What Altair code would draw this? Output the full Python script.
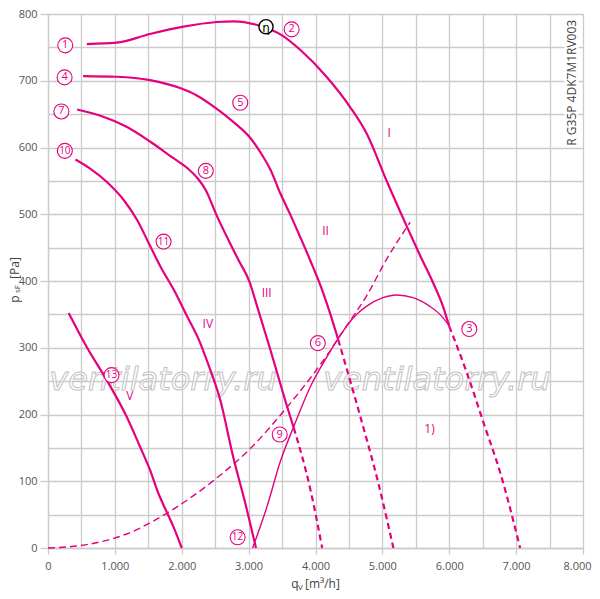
import altair as alt
import pandas as pd

MAG = "#e5007d"
GRID = "#cbcbcb"

# ---- fan curves (qV in m3/h, psF in Pa) ----
c1_x = [580, 1025, 1525, 2025, 2525, 2775, 3175, 3500, 3775, 4165, 4515, 4765, 5060, 5360, 5560, 5760, 5910, 6000]
c1_y = [755, 757, 770, 781, 788, 789, 782, 768, 746, 706, 661, 621, 551, 483, 439, 397, 361, 332]
c1d_x = [6000, 6265, 6515, 6765, 7060]
c1d_y = [332, 262, 187, 112, 0]

c2_x = [525, 1025, 1525, 1975, 2225, 2510, 2775, 3010, 3175, 3325, 3475, 3625, 3775, 3925, 4075, 4200, 4340]
c2_y = [707, 706, 701, 689, 678, 659, 638, 616, 593, 567, 531, 499, 465, 430, 393, 357, 312]
c2d_x = [4340, 4670, 4940, 5165]
c2d_y = [312, 197, 97, 0]

c3_x = [435, 775, 1175, 1525, 1875, 2085, 2235, 2360, 2510, 2700, 2850, 3020, 3100, 3325, 3575, 3675]
c3_y = [657, 648, 631, 609, 584, 569, 554, 536, 501, 461, 431, 397, 371, 297, 212, 180]
c3d_x = [3675, 3925, 4100]
c3d_y = [180, 87, 0]

c4_x = [410, 635, 885, 1135, 1335, 1510, 1685, 1885, 2085, 2260, 2375, 2575, 2775, 2950, 3110]
c4_y = [582, 568, 548, 521, 491, 456, 421, 386, 346, 311, 281, 222, 134, 67, 0]

c5_x = [310, 575, 875, 1175, 1375, 1525, 1650, 1775, 1875, 2000]
c5_y = [352, 302, 252, 197, 152, 117, 82, 54, 32, 0]

# thin solid arc (operating range limit)
arc_x = [3060, 3275, 3475, 3675, 3925, 4175, 4360, 4565, 4760, 5010, 5210, 5460, 5710, 5860, 5985]
arc_y = [0, 62, 130, 182, 242, 287, 317, 345, 362, 375, 379, 375, 362, 350, 335]

# thin dashed system curve
sys_x = [0, 575, 1175, 1775, 2475, 3025, 3575, 4160, 4460, 4760, 5060, 5415]
sys_y = [0, 5, 21, 52, 101, 149, 211, 287, 332, 377, 432, 488]

# ---- labels ----
num_ids = [1, 2, 3, 4, 5, 6, 7, 8, 9, 10, 11, 12, 13]
num_x = [258, 3643, 6300, 248, 2875, 4035, 200, 2360, 3465, 252, 1728, 2835, 950]
num_y = [753, 777, 328, 705, 667, 307, 654, 565, 170, 595, 459, 16, 259]

roman_txt = ["I", "II", "III", "IV", "V", "1)"]
roman_x = [5100, 4150, 3270, 2390, 1225, 5705]
roman_y = [621, 475, 382, 336, 228, 178]

eta_x = [3260]
eta_y = [781]

wm_txt = ["ventilatorry.ru", "ventilatorry.ru"]
wm_x = [1720, 5815]
wm_y = [251, 251]

model_txt = ["R G35P 4DK7M1RV003"]
model_x = [7830]
model_y = [697]


def frame(name, xs, ys):
    return pd.DataFrame({"x": xs, "y": ys, "s": name, "o": list(range(len(xs)))})


thick_solid = pd.concat([frame("I", c1_x, c1_y), frame("II", c2_x, c2_y), frame("III", c3_x, c3_y),
                         frame("IV", c4_x, c4_y), frame("V", c5_x, c5_y)])
thick_dash = pd.concat([frame("Id", c1d_x, c1d_y), frame("IId", c2d_x, c2d_y), frame("IIId", c3d_x, c3d_y)])
thin_solid = frame("arc", arc_x, arc_y)
thin_dash = frame("sys", sys_x, sys_y)

nums = pd.DataFrame({"n": num_ids, "x": num_x, "y": num_y})
romans = pd.DataFrame({"t": roman_txt, "x": roman_x, "y": roman_y})
eta = pd.DataFrame({"t": ["η"], "x": eta_x, "y": eta_y})
wm = pd.DataFrame({"t": wm_txt, "x": wm_x, "y": wm_y})
model = pd.DataFrame({"t": model_txt, "x": model_x, "y": model_y})
one = pd.DataFrame({"k": [0]})

xaxis = alt.Axis(
    values=list(range(0, 8001, 500)),
    labelExpr="datum.value % 1000 === 0 ? (datum.value === 0 ? '0' : (datum.value/1000) + '.000') : ''",
    labelFlush=False, labelOverlap=False,
    labelOffset={"condition": {"test": "datum.value === 8000", "value": -6}, "value": 0},
    tickOpacity={"condition": {"test": "datum.value % 1000 === 0", "value": 1}, "value": 0},
    tickSize=6, labelPadding=6, tickColor=GRID, tickWidth=1.3,
    grid=True, gridColor=GRID, gridWidth=1.3,
    domainColor=GRID, domainWidth=1.3,
    labelFont="Open Sans", labelFontSize=11, labelColor="#555",
    title=None,
)
yaxis = alt.Axis(
    values=list(range(0, 801, 50)),
    labelExpr="datum.value % 100 === 0 ? datum.value : ''",
    labelFlush=False, labelOverlap=False,
    tickOpacity={"condition": {"test": "datum.value % 100 === 0", "value": 1}, "value": 0},
    tickSize=8, labelPadding=3, tickColor=GRID, tickWidth=1.3,
    grid=True, gridColor=GRID, gridWidth=1.3,
    domainColor=GRID, domainWidth=1.3,
    labelFont="Open Sans", labelFontSize=11, labelColor="#555",
    title=None,
)

X = alt.X("x:Q", scale=alt.Scale(domain=[0, 8000], nice=False, zero=False), axis=xaxis)
Y = alt.Y("y:Q", scale=alt.Scale(domain=[0, 800], nice=False, zero=False), axis=yaxis)

wm_layer = alt.Chart(wm).mark_text(font="DejaVu Sans", fontSize=32, fontStyle="italic",
                                   fill="white", fillOpacity=0.6, stroke="#c2c2c2", strokeWidth=1).encode(
    x=X, y=Y, text="t:N")

l_thick = alt.Chart(thick_solid).mark_line(color=MAG, strokeWidth=2.2, interpolate="monotone").encode(
    x=X, y=Y, detail="s:N", order="o:Q")
l_thick_d = alt.Chart(thick_dash).mark_line(color=MAG, strokeWidth=2.2, strokeDash=[6, 4],
                                            interpolate="monotone").encode(
    x=X, y=Y, detail="s:N", order="o:Q")
l_thin = alt.Chart(thin_solid).mark_line(color=MAG, strokeWidth=1.4, interpolate="monotone").encode(
    x=X, y=Y, detail="s:N", order="o:Q")
l_thin_d = alt.Chart(thin_dash).mark_line(color=MAG, strokeWidth=1.4, strokeDash=[7, 4],
                                          interpolate="monotone").encode(
    x=X, y=Y, detail="s:N", order="o:Q")

circ = alt.Chart(nums).mark_point(shape="circle", size=225, filled=True, fill="white",
                                  stroke=MAG, strokeWidth=1.1, opacity=1).encode(x=X, y=Y)
num_small = alt.Chart(nums).transform_filter("datum.n < 10").mark_text(
    font="Open Sans", fontSize=11, color=MAG).encode(x=X, y=Y, text="n:N")
num_big = alt.Chart(nums).transform_filter("datum.n >= 10").mark_text(
    font="Open Sans", fontSize=10, color=MAG).encode(x=X, y=Y, text="n:N")

rom = alt.Chart(romans).mark_text(font="Open Sans", fontSize=12, color=MAG).encode(x=X, y=Y, text="t:N")

eta_c = alt.Chart(eta).mark_point(shape="circle", size=200, filled=True, fill="white",
                                  stroke="black", strokeWidth=1.4, opacity=1).encode(x=X, y=Y)
eta_t = alt.Chart(eta).mark_text(font="DejaVu Sans", fontSize=12, color="black", dy=1).encode(
    x=X, y=Y, text="t:N")

model_halo = alt.Chart(model).mark_text(font="Open Sans", fontSize=12, angle=270, color="white",
                                        stroke="white", strokeWidth=5).encode(x=X, y=Y, text="t:N")
model_t = alt.Chart(model).mark_text(font="Open Sans", fontSize=12, angle=270, color="#444").encode(
    x=X, y=Y, text="t:N")

# axis titles (p_sF [Pa], q_V [m³/h])
yt_p = alt.Chart(one).mark_text(text="p", font="Open Sans", fontSize=12, angle=270, color="#444").encode(
    x=alt.value(-33), y=alt.value(285))
yt_s = alt.Chart(one).mark_text(text="sF", font="Open Sans", fontSize=8, angle=270, color="#444").encode(
    x=alt.value(-30), y=alt.value(275))
yt_u = alt.Chart(one).mark_text(text="[Pa]", font="Open Sans", fontSize=12, angle=270, color="#444").encode(
    x=alt.value(-33), y=alt.value(254))
xt_q = alt.Chart(one).mark_text(text="q", font="Open Sans", fontSize=12, color="#444").encode(
    x=alt.value(247), y=alt.value(570))
xt_v = alt.Chart(one).mark_text(text="V", font="Open Sans", fontSize=8, color="#444").encode(
    x=alt.value(252.5), y=alt.value(574))
xt_u = alt.Chart(one).mark_text(text="[m³/h]", font="Open Sans", fontSize=12, color="#444",
                                align="left").encode(x=alt.value(257), y=alt.value(570))

chart = alt.layer(
    wm_layer, l_thin_d, l_thin, l_thick, l_thick_d, circ, num_small, num_big, rom, eta_c, eta_t,
    model_halo, model_t, yt_p, yt_s, yt_u, xt_q, xt_v, xt_u
).properties(
    width=535, height=534, autosize="none",
    padding={"left": 40, "top": 6, "right": 9, "bottom": 43},
).configure_view(strokeWidth=0).configure(background="white")

chart.save("out.html", embed_options={"renderer": "svg", "actions": False})
